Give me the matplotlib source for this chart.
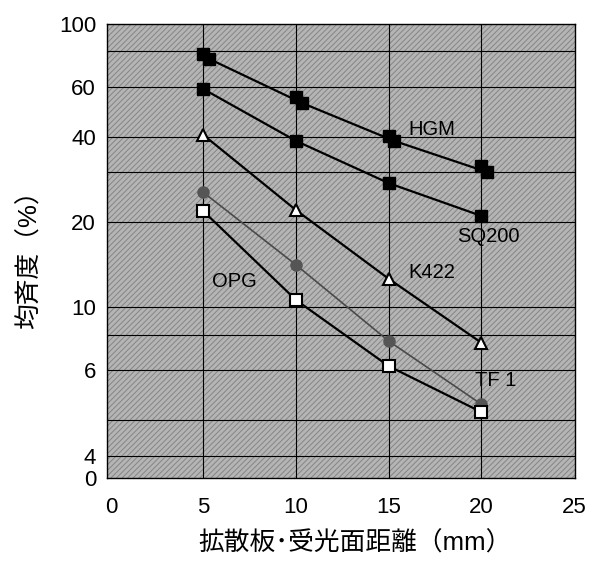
import matplotlib.pyplot as plt
from matplotlib.patches import Rectangle
import numpy as np

plt.rcParams['font.family'] = ['Liberation Sans', 'Noto Sans CJK JP', 'DejaVu Sans']
plt.rcParams['hatch.linewidth'] = 0.7

# distance between diffuser and receiving surface (mm)
x = [5, 10, 15, 20]
x_hgm2 = [5.3, 10.3, 15.3, 20.3]

hgm_a = [78.3, 55.2, 40.2, 31.5]
hgm_b = [75.2, 52.6, 38.6, 30.0]
sq200 = [58.8, 38.6, 27.4, 21.0]
k422 = [40.5, 22.0, 12.6, 7.5]
tf1 = [25.4, 14.1, 7.6, 4.55]
opg = [21.8, 10.6, 6.2, 4.27]

ytick_vals = [2.5, 3, 6, 10, 20, 40, 60, 100]
ytick_labels = ['0', '4', '6', '10', '20', '40', '60', '100']
ygrid_vals = [3, 4, 6, 8, 10, 20, 30, 40, 60, 80]
xticks = [0, 5, 10, 15, 20, 25]

fig = plt.figure(figsize=(6.02, 5.65), dpi=100)
ax = fig.add_axes([0.178, 0.154, 0.777, 0.804])

# hatched grey background
ax.add_patch(Rectangle((0, 0), 1, 1, transform=ax.transAxes, facecolor='#b5b5b5',
                       edgecolor='#858585', hatch='//////', lw=0, zorder=0))

ax.set_yscale('log')
ax.set_ylim(2.5, 100)
ax.set_xlim(-0.2, 25.05)

for g in ygrid_vals:
    ax.axhline(g, color='black', lw=0.8, zorder=1)
for g in [5, 10, 15, 20]:
    ax.axvline(g, color='black', lw=0.8, zorder=1)

lw = 1.6
ax.plot(x, hgm_a, color='black', lw=0, marker='s', ms=9, mfc='black', mec='black', zorder=3)
ax.plot(x_hgm2, hgm_b, color='black', lw=lw, marker='s', ms=9, mfc='black', mec='black', zorder=3)
ax.plot(x, sq200, color='black', lw=lw, marker='s', ms=9, mfc='black', mec='black', zorder=3)
ax.plot(x, k422, color='black', lw=lw, marker='^', ms=9, mfc='white', mec='black', mew=1.5, zorder=3)
ax.plot(x, tf1, color='#4a4a4a', lw=1.2, marker='o', ms=8, mfc='#555555', mec='#555555', zorder=3)
ax.plot(x, opg, color='black', lw=lw, marker='s', ms=9, mfc='white', mec='black', mew=1.5, zorder=3)

fs = 14.5
ax.text(17.3, 42.2, 'HGM', fontsize=fs, ha='center', va='center', zorder=4)
ax.text(20.4, 17.7, 'SQ200', fontsize=fs, ha='center', va='center', zorder=4)
ax.text(17.35, 13.3, 'K422', fontsize=fs, ha='center', va='center', zorder=4)
ax.text(6.66, 12.3, 'OPG', fontsize=fs, ha='center', va='center', zorder=4)
ax.text(20.8, 5.52, 'TF 1', fontsize=fs, ha='center', va='center', zorder=4)

ax.set_yticks(ytick_vals)
ax.set_yticklabels(ytick_labels)
ax.yaxis.set_minor_locator(plt.NullLocator())
ax.set_xticks(xticks)
ax.tick_params(axis='both', length=0, labelsize=16)
ax.tick_params(axis='x', pad=14)
ax.tick_params(axis='y', pad=8)

for s in ax.spines.values():
    s.set_color('black')
    s.set_linewidth(1.0)

ax.set_xlabel('拡散板･受光面距離（mm）', fontsize=18.5, labelpad=9)
ax.xaxis.label.set_x(0.53)
ax.set_ylabel('均斉度（%）', fontsize=18.5, labelpad=12)
ax.yaxis.label.set_y(0.495)

fig.savefig('out.png', dpi=100)
